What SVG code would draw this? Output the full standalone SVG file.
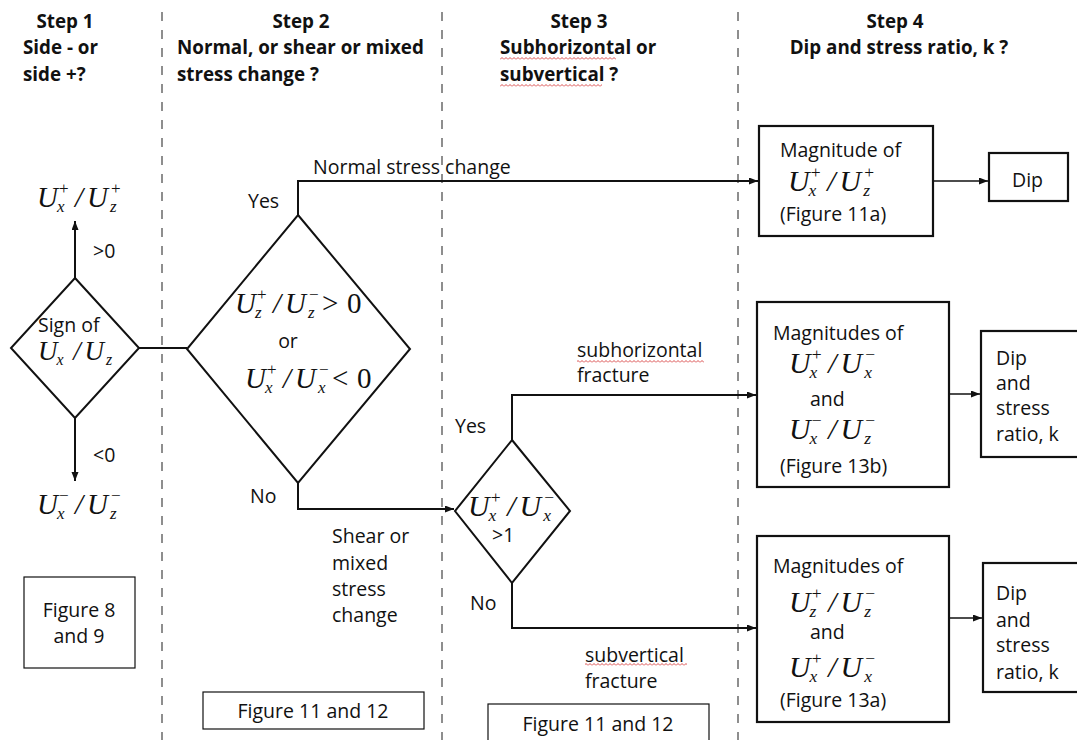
<svg xmlns="http://www.w3.org/2000/svg" width="1077" height="740" viewBox="0 0 1077 740">
<style>
.t{font-family:"Open Sans","Liberation Sans",sans-serif;font-size:19.5px;fill:#111}
.h{font-family:"Open Sans","Liberation Sans",sans-serif;font-size:18.8px;font-weight:bold;fill:#111}
.m{font-family:"Liberation Serif","Times New Roman",serif;font-size:29px;font-style:italic;fill:#111}
.s{font-size:17px}
.up{font-style:normal}
.box{fill:#fff;stroke:#111;stroke-width:2.2}
.fbox{fill:#fff;stroke:#111;stroke-width:1.2}
.dia{fill:#fff;stroke:#111;stroke-width:2}
.c{fill:none;stroke:#111;stroke-width:2}
.c2{fill:none;stroke:#111;stroke-width:1.5}
.dash{stroke:#444;stroke-width:1.2;stroke-dasharray:9 9}
.sq{fill:url(#squig)}
</style>
<defs>
<marker id="ah" markerUnits="userSpaceOnUse" markerWidth="10" markerHeight="8" refX="9" refY="3.5" orient="auto">
<path d="M0,0 L9,3.5 L0,7 z" fill="#111"/>
</marker>
<pattern id="squig" patternUnits="userSpaceOnUse" width="4" height="3">
<path d="M0,2.5 L2,0.5 L4,2.5" fill="none" stroke="#d02020" stroke-width="0.8"/>
</pattern>
</defs>
<rect width="1077" height="740" fill="#fff"/>

<g id="dividers">
<line class="dash" x1="162" y1="12" x2="162" y2="740"/>
<line class="dash" x1="442" y1="12" x2="442" y2="740"/>
<line class="dash" x1="738" y1="12" x2="738" y2="740"/>
</g>

<g id="headers">
<text class="h" x="65" y="28" text-anchor="middle">Step 1</text>
<text class="h" x="23" y="54">Side - or</text>
<text class="h" x="23" y="81">side +?</text>
<text class="h" x="301" y="28" text-anchor="middle">Step 2</text>
<text class="h" x="177" y="54">Normal, or shear or mixed</text>
<text class="h" x="177" y="81">stress change ?</text>
<text class="h" x="579" y="28" text-anchor="middle">Step 3</text>
<text class="h" x="500" y="54">Subhorizontal or</text>
<text class="h" x="500" y="81">subvertical ?</text>
<rect class="sq" x="500" y="57" width="116" height="3"/>
<rect class="sq" x="500" y="84" width="102" height="3"/>
<text class="h" x="895" y="28" text-anchor="middle">Step 4</text>
<text class="h" x="899" y="54" text-anchor="middle">Dip and stress ratio, k ?</text>
</g>

<g id="connectors">
<path class="c" d="M75,278 V221" marker-end="url(#ah)"/>
<path class="c" d="M75,418 V481" marker-end="url(#ah)"/>
<path class="c" d="M139,348 H187"/>
<path class="c" d="M298,215 V181 H758" marker-end="url(#ah)"/>
<path class="c" d="M298,483 V509 H454" marker-end="url(#ah)"/>
<path class="c" d="M512,440 V395 H756" marker-end="url(#ah)"/>
<path class="c" d="M512,583 V628 H756" marker-end="url(#ah)"/>
<path class="c2" d="M933,181 H988" marker-end="url(#ah)"/>
<path class="c2" d="M949,394 H980" marker-end="url(#ah)"/>
<path class="c2" d="M949,618 H982" marker-end="url(#ah)"/>
<text class="t" x="93" y="258">&gt;0</text>
<text class="t" x="93" y="462">&lt;0</text>
<text class="t" x="248" y="208">Yes</text>
<text class="t" x="250" y="503">No</text>
<text class="t" x="313" y="174">Normal stress change</text>
<text class="t" x="332" y="543">Shear or</text>
<text class="t" x="332" y="570">mixed</text>
<text class="t" x="332" y="596">stress</text>
<text class="t" x="332" y="622">change</text>
<text class="t" x="455" y="433">Yes</text>
<text class="t" x="470" y="610">No</text>
<text class="t" x="577" y="357">subhorizontal</text>
<text class="t" x="577" y="382">fracture</text>
<rect class="sq" x="577" y="360" width="127" height="3"/>
<text class="t" x="585" y="662">subvertical</text>
<text class="t" x="585" y="688">fracture</text>
<rect class="sq" x="585" y="663" width="102" height="3"/>
</g>

<g id="side-plus">
<g transform="translate(37,207)"><text class="m"><tspan x="0" y="0">U</tspan><tspan class="s up" x="22" y="-13">+</tspan><tspan class="s" x="20" y="5">x</tspan><tspan x="38" y="0">/</tspan><tspan x="50" y="0">U</tspan><tspan class="s up" x="74" y="-13">+</tspan><tspan class="s" x="73" y="5">z</tspan></text></g>
</g>

<g id="step1-sign">
<polygon class="dia" points="75,278 139,348 75,418 11,348"/>
<text class="t" x="38" y="332">Sign of</text>
<g transform="translate(38,360) scale(0.93)"><text class="m"><tspan x="0" y="0">U</tspan><tspan class="s" x="20" y="5">x</tspan><tspan x="38" y="0">/</tspan><tspan x="50" y="0">U</tspan><tspan class="s" x="73" y="5">z</tspan></text></g>
</g>

<g id="side-minus">
<g transform="translate(37,514)"><text class="m"><tspan x="0" y="0">U</tspan><tspan class="s up" x="22" y="-13">−</tspan><tspan class="s" x="20" y="5">x</tspan><tspan x="38" y="0">/</tspan><tspan x="50" y="0">U</tspan><tspan class="s up" x="74" y="-13">−</tspan><tspan class="s" x="73" y="5">z</tspan></text></g>
</g>

<g id="fig8-9">
<rect class="fbox" x="24" y="577" width="111" height="91"/>
<text class="t" x="79" y="617" text-anchor="middle">Figure 8</text>
<text class="t" x="79" y="643" text-anchor="middle">and 9</text>
</g>

<g id="step2-test">
<polygon class="dia" points="298,215 410,349 298,483 187,349"/>
<g transform="translate(235,313)"><text class="m"><tspan x="0" y="0">U</tspan><tspan class="s up" x="22" y="-13">+</tspan><tspan class="s" x="20" y="5">z</tspan><tspan x="38" y="0">/</tspan><tspan x="50" y="0">U</tspan><tspan class="s up" x="74" y="-13">−</tspan><tspan class="s" x="73" y="5">z</tspan><tspan class="up" x="87" y="0">&gt;</tspan><tspan class="up" x="112" y="0">0</tspan></text></g>
<text class="t" x="288" y="348" text-anchor="middle">or</text>
<g transform="translate(245,388)"><text class="m"><tspan x="0" y="0">U</tspan><tspan class="s up" x="22" y="-13">+</tspan><tspan class="s" x="20" y="5">x</tspan><tspan x="38" y="0">/</tspan><tspan x="50" y="0">U</tspan><tspan class="s up" x="74" y="-13">−</tspan><tspan class="s" x="73" y="5">x</tspan><tspan class="up" x="87" y="0">&lt;</tspan><tspan class="up" x="112" y="0">0</tspan></text></g>
</g>

<g id="fig11-12-a">
<rect class="fbox" x="203" y="692" width="221" height="37"/>
<text class="t" x="313" y="718" text-anchor="middle">Figure 11 and 12</text>
</g>

<g id="step3-test">
<polygon class="dia" points="512,440 570,511 512,583 455,511"/>
<g transform="translate(468,516) scale(1.03)"><text class="m"><tspan x="0" y="0">U</tspan><tspan class="s up" x="22" y="-13">+</tspan><tspan class="s" x="20" y="5">x</tspan><tspan x="38" y="0">/</tspan><tspan x="50" y="0">U</tspan><tspan class="s up" x="74" y="-13">−</tspan><tspan class="s" x="73" y="5">x</tspan></text></g>
<text class="t" x="492" y="542">&gt;1</text>
</g>

<g id="fig11-12-b">
<rect class="fbox" x="488" y="704" width="221" height="50"/>
<text class="t" x="598" y="731" text-anchor="middle">Figure 11 and 12</text>
</g>

<g id="mag-11a">
<rect class="box" x="759" y="126" width="174" height="110"/>
<text class="t" x="780" y="157">Magnitude of</text>
<g transform="translate(788,191) scale(1.03)"><text class="m"><tspan x="0" y="0">U</tspan><tspan class="s up" x="22" y="-13">+</tspan><tspan class="s" x="20" y="5">x</tspan><tspan x="38" y="0">/</tspan><tspan x="50" y="0">U</tspan><tspan class="s up" x="74" y="-13">+</tspan><tspan class="s" x="73" y="5">z</tspan></text></g>
<text class="t" x="780" y="221">(Figure 11a)</text>
</g>

<g id="dip">
<rect class="box" x="989" y="153" width="79" height="48"/>
<text class="t" x="1012" y="187">Dip</text>
</g>

<g id="mag-13b">
<rect class="box" x="757" y="302" width="192" height="185"/>
<text class="t" x="773" y="340">Magnitudes of</text>
<g transform="translate(789,373) scale(1.03)"><text class="m"><tspan x="0" y="0">U</tspan><tspan class="s up" x="22" y="-13">+</tspan><tspan class="s" x="20" y="5">x</tspan><tspan x="38" y="0">/</tspan><tspan x="50" y="0">U</tspan><tspan class="s up" x="74" y="-13">−</tspan><tspan class="s" x="73" y="5">x</tspan></text></g>
<text class="t" x="810" y="406">and</text>
<g transform="translate(789,439) scale(1.03)"><text class="m"><tspan x="0" y="0">U</tspan><tspan class="s up" x="22" y="-13">−</tspan><tspan class="s" x="20" y="5">x</tspan><tspan x="38" y="0">/</tspan><tspan x="50" y="0">U</tspan><tspan class="s up" x="74" y="-13">−</tspan><tspan class="s" x="73" y="5">z</tspan></text></g>
<text class="t" x="780" y="473">(Figure 13b)</text>
</g>

<g id="dip-k-a">
<rect class="box" x="981" y="331" width="120" height="126"/>
<text class="t" x="996" y="365">Dip</text>
<text class="t" x="996" y="390">and</text>
<text class="t" x="996" y="415">stress</text>
<text class="t" x="996" y="441">ratio, k</text>
</g>

<g id="mag-13a">
<rect class="box" x="757" y="536" width="192" height="186"/>
<text class="t" x="773" y="573">Magnitudes of</text>
<g transform="translate(789,612) scale(1.03)"><text class="m"><tspan x="0" y="0">U</tspan><tspan class="s up" x="22" y="-13">+</tspan><tspan class="s" x="20" y="5">z</tspan><tspan x="38" y="0">/</tspan><tspan x="50" y="0">U</tspan><tspan class="s up" x="74" y="-13">−</tspan><tspan class="s" x="73" y="5">z</tspan></text></g>
<text class="t" x="810" y="639">and</text>
<g transform="translate(789,677) scale(1.03)"><text class="m"><tspan x="0" y="0">U</tspan><tspan class="s up" x="22" y="-13">+</tspan><tspan class="s" x="20" y="5">x</tspan><tspan x="38" y="0">/</tspan><tspan x="50" y="0">U</tspan><tspan class="s up" x="74" y="-13">−</tspan><tspan class="s" x="73" y="5">x</tspan></text></g>
<text class="t" x="780" y="707">(Figure 13a)</text>
</g>

<g id="dip-k-b">
<rect class="box" x="983" y="563" width="120" height="129"/>
<text class="t" x="996" y="600">Dip</text>
<text class="t" x="996" y="627">and</text>
<text class="t" x="996" y="652">stress</text>
<text class="t" x="996" y="679">ratio, k</text>
</g>
</svg>
